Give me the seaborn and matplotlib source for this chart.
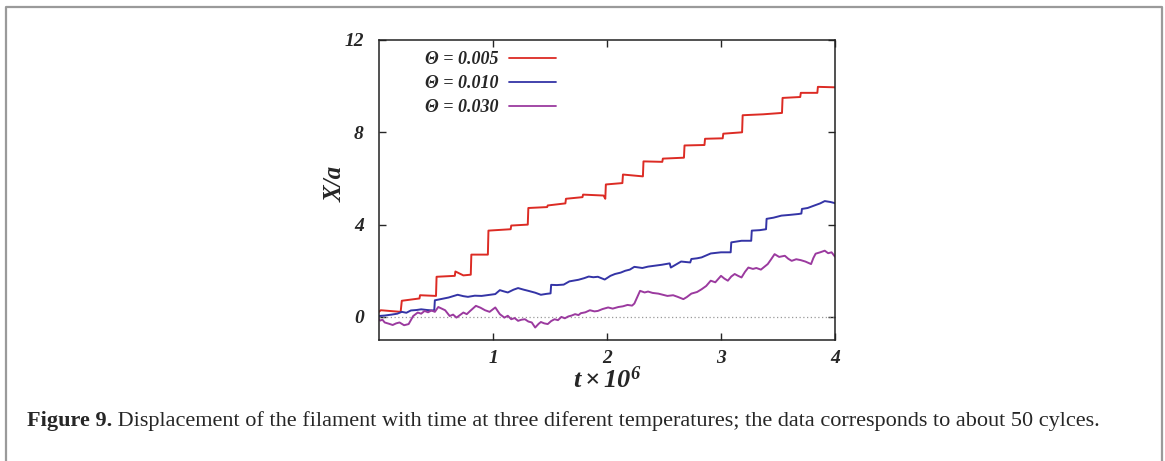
import numpy as np
import pandas as pd
import seaborn as sns
from matplotlib import pyplot as plt
from matplotlib.lines import Line2D

# red: Theta = 0.005 (staircase, pre/post jump values)
t_red = [0.0, 0.015, 0.19, 0.20, 0.355, 0.36, 0.50, 0.505, 0.665, 0.67, 0.74, 0.805, 0.81, 0.955, 0.96, 1.155, 1.16,
         1.305, 1.31, 1.475, 1.48, 1.635, 1.64, 1.785, 1.79, 1.97, 1.985, 1.99, 2.135, 2.14, 2.315, 2.32, 2.485, 2.49,
         2.675, 2.68, 2.855, 2.86, 3.015, 3.02, 3.185, 3.19, 3.37, 3.535, 3.54, 3.695, 3.70, 3.845, 3.85, 4.0]
x_red = [0.22, 0.29, 0.22, 0.70, 0.80, 0.94, 0.91, 1.74, 1.78, 1.97, 1.80, 1.83, 2.70, 2.70, 3.74, 3.80, 3.96,
         4.00, 4.72, 4.76, 4.83, 4.92, 5.12, 5.19, 5.30, 5.26, 5.12, 5.74, 5.80, 6.17, 6.09, 6.74, 6.72, 6.86,
         6.90, 7.43, 7.45, 7.72, 7.74, 7.94, 8.00, 8.74, 8.78, 8.84, 9.49, 9.53, 9.71, 9.71, 9.97, 9.95]

# blue: Theta = 0.010
t_blue = [0.0, 0.05, 0.11, 0.16, 0.20, 0.24, 0.28, 0.33, 0.37, 0.42, 0.47, 0.485, 0.49, 0.55, 0.61, 0.65, 0.69, 0.74,
          0.78, 0.84, 0.90, 0.96, 1.02, 1.06, 1.10, 1.13, 1.18, 1.22, 1.27, 1.31, 1.37, 1.42, 1.47, 1.505, 1.51,
          1.56, 1.62, 1.67, 1.75, 1.80, 1.84, 1.88, 1.92, 1.98, 2.03, 2.07, 2.12, 2.16, 2.20, 2.24, 2.31, 2.36,
          2.42, 2.48, 2.55, 2.56, 2.65, 2.73, 2.74, 2.79, 2.83, 2.91, 3.00, 3.085, 3.09, 3.18, 3.265, 3.27, 3.34,
          3.395, 3.40, 3.46, 3.53, 3.60, 3.68, 3.705, 3.71, 3.76, 3.82, 3.87, 3.91, 3.96, 4.0]
x_blue = [0.04, 0.06, 0.10, 0.14, 0.22, 0.18, 0.28, 0.30, 0.33, 0.30, 0.28, 0.30, 0.72, 0.78, 0.84, 0.90, 0.96,
          0.90, 0.87, 0.92, 0.91, 0.95, 0.99, 1.16, 1.10, 1.06, 1.18, 1.25, 1.18, 1.13, 1.05, 0.96, 1.00, 1.02,
          1.39, 1.38, 1.40, 1.54, 1.61, 1.68, 1.75, 1.72, 1.74, 1.62, 1.78, 1.86, 1.92, 2.00, 2.05, 2.17, 2.12,
          2.18, 2.22, 2.26, 2.32, 2.14, 2.40, 2.36, 2.51, 2.54, 2.58, 2.75, 2.80, 2.80, 3.23, 3.30, 3.30, 3.74,
          3.76, 3.80, 4.25, 4.30, 4.39, 4.42, 4.46, 4.48, 4.68, 4.72, 4.83, 4.92, 5.02, 4.98, 4.93]

# purple: Theta = 0.030
t_purple = [0.0, 0.01, 0.03, 0.05, 0.09, 0.12, 0.15, 0.18, 0.22, 0.26, 0.30, 0.34, 0.37, 0.40, 0.43, 0.46, 0.49,
            0.52, 0.55, 0.58, 0.62, 0.65, 0.68, 0.71, 0.74, 0.77, 0.80, 0.85, 0.89, 0.93, 0.97, 1.02, 1.06, 1.10,
            1.13, 1.16, 1.19, 1.22, 1.25, 1.28, 1.31, 1.34, 1.37, 1.40, 1.42, 1.45, 1.48, 1.51, 1.54, 1.57, 1.60,
            1.63, 1.66, 1.69, 1.72, 1.75, 1.77, 1.81, 1.85, 1.89, 1.92, 1.96, 2.01, 2.05, 2.10, 2.14, 2.18, 2.22,
            2.24, 2.29, 2.33, 2.36, 2.40, 2.45, 2.49, 2.53, 2.58, 2.62, 2.67, 2.70, 2.74, 2.79, 2.83, 2.87, 2.91,
            2.95, 3.00, 3.03, 3.06, 3.09, 3.12, 3.15, 3.18, 3.21, 3.24, 3.28, 3.31, 3.35, 3.38, 3.41, 3.44, 3.47,
            3.51, 3.56, 3.59, 3.62, 3.66, 3.70, 3.74, 3.79, 3.81, 3.83, 3.87, 3.91, 3.94, 3.97, 4.0]
x_purple = [-0.10, -0.16, -0.12, -0.24, -0.30, -0.35, -0.28, -0.24, -0.36, -0.31, 0.04, 0.19, 0.14, 0.26, 0.20,
            0.28, 0.22, 0.43, 0.36, 0.29, 0.04, 0.10, -0.03, 0.08, 0.19, 0.12, 0.26, 0.48, 0.40, 0.29, 0.22, 0.41,
            0.12, -0.03, 0.05, -0.10, -0.05, -0.17, -0.12, -0.10, -0.20, -0.24, -0.46, -0.30, -0.22, -0.28, -0.31,
            -0.18, -0.10, -0.14, 0.00, -0.06, 0.02, 0.06, 0.12, 0.08, 0.16, 0.20, 0.29, 0.24, 0.26, 0.34, 0.41,
            0.36, 0.43, 0.46, 0.52, 0.49, 0.58, 1.13, 1.06, 1.10, 1.04, 1.01, 0.96, 0.91, 0.94, 0.87, 0.77, 0.86,
            1.01, 1.08, 1.20, 1.34, 1.57, 1.50, 1.78, 1.66, 1.57, 1.75, 1.86, 1.78, 1.71, 1.95, 2.14, 2.08, 2.12,
            2.05, 2.17, 2.29, 2.50, 2.72, 2.60, 2.65, 2.52, 2.43, 2.50, 2.46, 2.40, 2.29, 2.55, 2.74, 2.80, 2.87,
            2.76, 2.80, 2.61]

labels = ["Θ = 0.005", "Θ = 0.010", "Θ = 0.030"]
colors = ["#dc2b24", "#3434a6", "#9b3a9f"]

caption_bold = "Figure 9."
caption_rest = " Displacement of the filament with time at three diferent temperatures; the data corresponds to about 50 cylces."

df = pd.concat([
    pd.DataFrame({"t": t_red, "X": x_red, "theta": labels[0]}),
    pd.DataFrame({"t": t_blue, "X": x_blue, "theta": labels[1]}),
    pd.DataFrame({"t": t_purple, "X": x_purple, "theta": labels[2]}),
])

sns.set_style("ticks")
plt.rcParams["font.family"] = ["Liberation Serif", "DejaVu Serif"]
plt.rcParams["mathtext.fontset"] = "custom"
plt.rcParams["mathtext.it"] = "Liberation Serif:italic:bold"
plt.rcParams["mathtext.rm"] = "Liberation Serif:italic:bold"

fig = plt.figure(figsize=(11.65, 4.61), dpi=100)
ax = fig.add_axes([379 / 1165, 1 - 340 / 461, (835 - 379) / 1165, (340 - 40) / 461])

ax.axhline(0, color="#999999", lw=0.9, ls=(0, (1, 2)), zorder=1)
sns.lineplot(data=df, x="t", y="X", hue="theta", hue_order=labels, palette=colors,
             estimator=None, sort=False, lw=1.4, ax=ax, legend=True)

ax.set_xlim(0, 4)
ax.set_ylim(-1, 12)
ax.set_xticks([1, 2, 3, 4])
ax.set_yticks([0, 4, 8, 12])
ax.tick_params(direction="in", top=True, right=True, length=5, width=1, labelsize=14)
ax.tick_params(axis="y", pad=11)
ax.tick_params(axis="x", pad=7)
for lab in ax.get_xticklabels() + ax.get_yticklabels():
    lab.set_fontweight("bold")
    lab.set_fontstyle("italic")
for sp in ax.spines.values():
    sp.set_linewidth(1.1)
    sp.set_color("#222222")

ax.set_xlabel(r"$t \times 10^{6}$", fontsize=19, labelpad=0)
ax.set_ylabel("X/a", fontsize=18, fontweight="bold", fontstyle="italic")
ax.yaxis.set_label_coords(-0.072, 0.52)

leg = ax.legend(loc="upper left", bbox_to_anchor=(0.065, 1.018), frameon=False, markerfirst=False,
                handlelength=2.6, handletextpad=0.6, labelspacing=0.4,
                prop={"family": "Liberation Serif", "weight": "bold", "style": "italic", "size": 13})
for h in leg.get_lines():
    h.set_linewidth(1.3)

# frame around the figure (open at the bottom)
fig.add_artist(Line2D([6 / 1165, 6 / 1165, 1162 / 1165, 1162 / 1165],
                      [0, 1 - 7 / 461, 1 - 7 / 461, 0],
                      transform=fig.transFigure, color="#9a9a9a", lw=1.6))

# caption
t1 = fig.text(27 / 1165, 1 - 421 / 461, caption_bold, fontsize=16, fontweight="bold", va="center", ha="left")
fig.canvas.draw()
bb = t1.get_window_extent(renderer=fig.canvas.get_renderer())
fig.text(bb.x1 / fig.bbox.width, 1 - 421 / 461, caption_rest, fontsize=16, va="center", ha="left")

fig.savefig("out.png", dpi=100)
